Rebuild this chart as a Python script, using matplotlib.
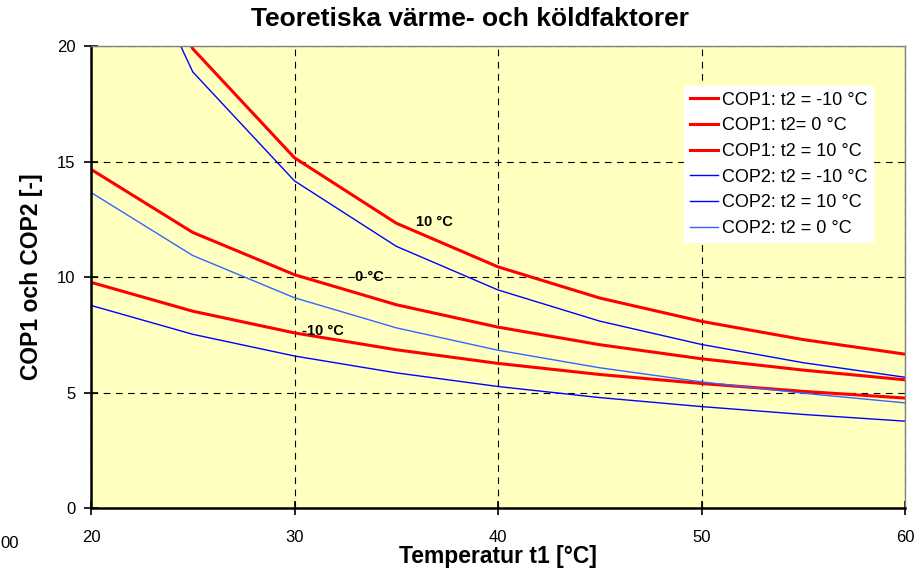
import matplotlib.pyplot as plt

plt.rcParams['font.family'] = ['Liberation Sans', 'DejaVu Sans']

# data
t1 = [20, 25, 30, 35, 40, 45, 50, 55, 60]
cop1_m10 = [9.77, 8.52, 7.58, 6.85, 6.26, 5.78, 5.39, 5.05, 4.76]
cop1_0 = [14.66, 11.93, 10.10, 8.80, 7.83, 7.07, 6.46, 5.97, 5.55]
cop1_10 = [29.3, 19.88, 15.16, 12.33, 10.44, 9.09, 8.08, 7.29, 6.66]
cop2_m10 = [8.77, 7.52, 6.58, 5.85, 5.26, 4.78, 4.39, 4.05, 3.76]
cop2_10 = [28.3, 18.88, 14.16, 11.33, 9.44, 8.09, 7.08, 6.29, 5.66]
cop2_0 = [13.66, 10.93, 9.10, 7.80, 6.83, 6.07, 5.46, 4.97, 4.55]

fig = plt.figure(figsize=(9.23, 5.78), dpi=100)
ax = fig.add_axes([0.0986, 0.1211, 0.8819, 0.7993])
ax.set_facecolor('#FFFFC0')

ax.plot(t1, cop1_m10, color='#FF0000', lw=2.2, label='COP1: t2 = -10 °C')
ax.plot(t1, cop1_0, color='#FF0000', lw=2.2, label='COP1: t2= 0 °C')
ax.plot(t1, cop1_10, color='#FF0000', lw=2.2, label='COP1: t2 = 10 °C')
ax.plot(t1, cop2_m10, color='#0000FF', lw=1.0, label='COP2: t2 = -10 °C')
ax.plot(t1, cop2_10, color='#0000FF', lw=1.0, label='COP2: t2 = 10 °C')
ax.plot(t1, cop2_0, color='#3366FF', lw=1.0, label='COP2: t2 = 0 °C')

ax.set_xlim(20, 60)
ax.set_ylim(0, 20)
ax.set_xticks([20, 30, 40, 50, 60])
ax.set_yticks([0, 5, 10, 15, 20])
ax.grid(True, color='black', ls=(0, (6, 5)), lw=0.8)
ax.tick_params(direction='inout', length=10, width=1.2, labelsize=12)
ax.tick_params(axis='x', pad=11)
ax.tick_params(axis='y', pad=6)
for side in ['top', 'right']:
    ax.spines[side].set_color('#808080')
    ax.spines[side].set_linewidth(1)
for side in ['left', 'bottom']:
    ax.spines[side].set_linewidth(1.8)

ax.text(36.9, 12.38, '10 °C', fontsize=10.5, fontweight='bold', ha='center', va='center')
ax.text(33.7, 10.0, '0 °C', fontsize=10.5, fontweight='bold', ha='center', va='center')
ax.text(31.4, 7.66, '-10 °C', fontsize=10.5, fontweight='bold', ha='center', va='center')

fig.text(470 / 923, 1 - 19 / 578, 'Teoretiska värme- och köldfaktorer', fontsize=19,
         fontweight='bold', ha='center', va='center')
ax.set_xlabel('Temperatur t1 [°C]', fontsize=16.5, fontweight='bold')
ax.xaxis.set_label_coords(0.5, -0.106)
ax.xaxis.label.set_va('center')
ax.set_ylabel('COP1 och COP2 [-]', fontsize=16.5, fontweight='bold')
ax.yaxis.set_label_coords(-0.0725, 0.5)
ax.yaxis.label.set_va('center')

leg = ax.legend(loc='upper right', bbox_to_anchor=(0.961, 0.913), fontsize=13,
                fancybox=False, framealpha=1, edgecolor='white', borderpad=0.3,
                labelspacing=0.48, handlelength=1.55, handletextpad=0.25, borderaxespad=0)

fig.text(0.0, 1 - 543 / 578, '00', fontsize=12, ha='left', va='center')

plt.savefig('out.png', dpi=100)
